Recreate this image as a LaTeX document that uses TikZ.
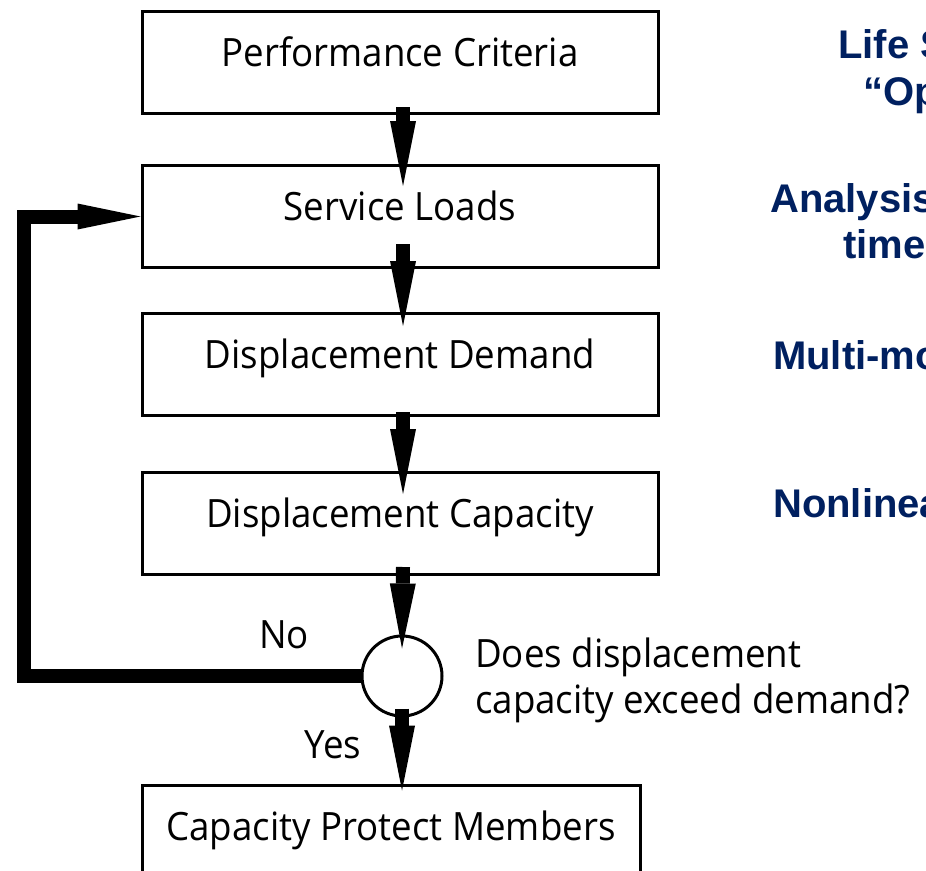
\documentclass[tikz,border=0pt]{standalone}
\usepackage{fontspec}
\setmainfont{Open Sans}[FakeStretch=0.94]
\newfontfamily\sidefont{Liberation Sans}
\usetikzlibrary{arrows.meta}
\definecolor{navy}{RGB}{0,32,96}
\newcommand\flowfont{\fontsize{39}{46}\selectfont}
\newcommand\notefont{\sidefont\bfseries\fontsize{40}{47}\selectfont}

\begin{document}
\begin{tikzpicture}[x=1pt,y=1pt,
  stepbox/.style={draw, line width=3pt, minimum width=516pt, minimum height=102pt,
    inner sep=0pt, text height=20pt, text depth=12pt, font=\flowfont},
  decision/.style={circle, draw, line width=3pt, fill=white, minimum size=80pt, inner sep=0pt},
  flow/.style={line width=14pt, -{Triangle[length=65pt, width=26pt, line width=0pt]}},
  feedback/.style={line width=14pt, line join=miter, -{Triangle[length=63pt, width=26pt, line width=0pt]}},
  plain/.style={font=\flowfont, inner sep=0pt},
  note/.style={font=\notefont, text=navy, inner sep=0pt, anchor=base west}
]
\useasboundingbox (0,0) rectangle (926,-870);

% process boxes
\node[stepbox] (pc) at (400,-62.5) {Performance Criteria};
\node[stepbox] (sl) at (400,-216.5) {Service Loads};
\node[stepbox] (dd) at (400,-364.5) {Displacement Demand};
\node[stepbox] (dc) at (400,-523.5) {Displacement Capacity};
\node[stepbox, minimum width=498pt] (cp) at (391,-836) {Capacity Protect Members};

% loop back when capacity is too small
\draw[feedback] (402,-676) -- (24,-676) |- (sl.west);

% decision point
\node[decision] (dec) at (402,-676) {};

% main flow
\draw[flow] ([xshift=3pt,yshift=8pt]pc.south) -- ([xshift=3pt,yshift=-22pt]sl.north);
\draw[flow] ([xshift=3pt,yshift=25pt]sl.south) -- ([xshift=3pt,yshift=-14pt]dd.north);
\draw[flow] ([xshift=3pt,yshift=5pt]dd.south) -- ([xshift=3pt,yshift=-23pt]dc.north);
\draw[flow] ([xshift=3pt,yshift=9pt]dc.south) -- ([yshift=-14pt]dec.north);
\draw[flow] ([yshift=9pt]dec.south) -- ([xshift=11pt,yshift=-7pt]cp.north);

% labels
\node[plain, anchor=base] (no) at (284,-648) {No};
\node[plain, anchor=base] (yes) at (333,-758) {Yes};
\node[plain, anchor=base west, align=left] (q) at (475,-713) {Does displacement\\capacity exceed demand?};

% side notes
\node[note] (n1) at (838,-58) {Life S};
\node[note] (n2) at (863,-105) {“Op};
\node[note] (n3) at (770,-212) {Analysis};
\node[note] (n4) at (843,-258) {time};
\node[note] (n5) at (773,-369) {Multi-mo};
\node[note] (n6) at (773,-517) {Nonlinea};
\end{tikzpicture}
\end{document}
